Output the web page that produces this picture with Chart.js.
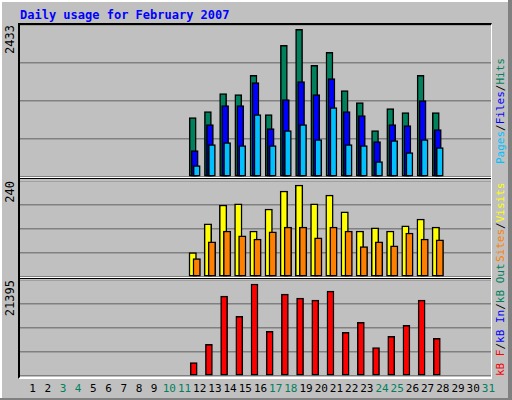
<!DOCTYPE html>
<html><head><meta charset="utf-8">
<script src="https://cdn.jsdelivr.net/npm/chart.js"></script>
<style>
body{margin:0;background:#fff;}
#wrap{position:absolute;left:0;top:0;width:510px;height:398px;background:#c0c0c0;border-left:2px solid #fff;border-top:2px solid #fff;box-sizing:border-box;}
#wrap:after{content:"";position:absolute;left:-2px;top:396px;width:512px;height:4px;background:#808080;}
#wrapR{position:absolute;left:508px;top:0;width:4px;height:400px;background:#808080;}
.t{position:absolute;font-family:"DejaVu Sans Mono",monospace;font-size:11px;white-space:nowrap;}
.rot{transform-origin:0 0;transform:rotate(-90deg);}
#frame{position:absolute;left:18px;top:23px;width:474px;height:356px;border-left:2px solid #000;border-top:2px solid #000;border-right:1px solid #fff;border-bottom:2px solid #fff;box-sizing:border-box;}
canvas{position:absolute;}
.sep{position:absolute;left:20px;width:471px;height:1px;}
</style></head><body>
<div id="wrap"></div><div id="wrapR"></div>
<div class="t" style="left:20px;top:8px;color:#0000ff;font-weight:bold;font-size:12px;">Daily usage for February 2007</div>
<div id="frame"></div>
<div id="labels"></div>
<div style="position:absolute;left:20px;top:25px;width:471px;height:352px;">
<canvas id="c1" style="left:0;top:0"></canvas>
<canvas id="c2" style="left:0;top:156px"></canvas>
<canvas id="c3" style="left:0;top:255px"></canvas>
</div>
<div class="sep" style="top:177px;background:#fff"></div><div class="sep" style="top:178px;background:#000"></div>
<div class="sep" style="top:277px;background:#fff"></div><div class="sep" style="top:278px;background:#000"></div>
<script>
const days=Array.from({length:31},(_,i)=>String(i+1));
const weekend=[3,4,10,11,17,18,24,25,31];
const N=null;
const hits=[N,N,N,N,N,N,N,N,N,N,N,952,1048,1337,1321,1626,1000,2107,2363,1786,1994,1385,1192,743,1096,1032,1626,1032,N,N,N];
const files=[N,N,N,N,N,N,N,N,N,N,N,422,840,1144,1144,1513,775,1241,1529,1321,1577,1048,984,567,840,824,1225,759,N,N,N];
const pages=[N,N,N,N,N,N,N,N,N,N,N,182,519,551,503,1000,503,743,840,599,1112,519,503,246,583,390,599,471,N,N,N];
const visits=[N,N,N,N,N,N,N,N,N,N,N,61,133,180,183,115,170,215,230,183,205,163,115,123,115,128,145,125,N,N,N];
const sites=[N,N,N,N,N,N,N,N,N,N,N,46,88,115,103,95,113,125,125,98,125,115,76,88,78,110,95,93,N,N,N];
const kbytes=[N,N,N,N,N,N,N,N,N,N,N,2992,7032,17805,13316,20497,9950,18254,17356,16907,18927,9725,11969,6359,8827,11296,16907,8378,N,N,N];
const maxHits=2433,maxVisits=240,maxKB=21395;

const shift={id:'shift',
 beforeDatasetDraw(c,a){const o=c.data.datasets[a.index].dx||0;c.ctx.save();c.ctx.translate(o,0);},
 afterDatasetDraw(c){c.ctx.restore();}};
const bg={id:'bg',beforeDraw(c){const x=c.ctx;x.save();x.fillStyle='#c0c0c0';x.fillRect(0,0,c.width,c.height);x.restore();}};
function mk(id,h,ds,max,w){
 const cv=document.getElementById(id);cv.width=471;cv.height=h;cv.style.width='471px';cv.style.height=h+'px';
 new Chart(cv,{type:'bar',data:{labels:days,datasets:ds.map((d,i)=>({data:d.v,backgroundColor:d.c,borderColor:'#000',borderWidth:1.5,borderSkipped:false,grouped:false,barThickness:w,dx:d.dx,order:ds.length-i}))},
 options:{responsive:false,animation:false,events:[],layout:{padding:0},
  plugins:{legend:{display:false},tooltip:{enabled:false}},
  scales:{x:{display:false},y:{min:0,max:max,ticks:{display:false,stepSize:max/4},grid:{color:'#808080',lineWidth:1.5,drawTicks:false},border:{display:false}}}},
 plugins:[bg,shift]});
}
mk('c1',152,[{v:hits,c:'#00805c',dx:-2},{v:files,c:'#0000ff',dx:0},{v:pages,c:'#00c0ff',dx:2}],maxHits,7);
mk('c2',96,[{v:visits,c:'#ffff00',dx:-2},{v:sites,c:'#ff8000',dx:2}],maxVisits,7.5);
mk('c3',96,[{v:kbytes,c:'#ff0000',dx:-1}],maxKB,7);

let html='';
days.forEach((d,i)=>{const cx=20+(i+0.5)*471/31+5;const col=weekend.includes(i+1)?'#00805c':'#000';
 html+=`<div class="t" style="left:${cx}px;top:382px;color:${col};transform:translateX(-50%);font-size:11px">${d}</div>`;});
html+=`<div class="t rot" style="left:3px;top:${25}px;font-size:12px;transform:rotate(-90deg) translateX(-100%);">${maxHits}</div>`;
html+=`<div class="t rot" style="left:3px;top:${181}px;font-size:12px;transform:rotate(-90deg) translateX(-100%);">${maxVisits}</div>`;
html+=`<div class="t rot" style="left:3px;top:${280}px;font-size:12px;transform:rotate(-90deg) translateX(-100%);">${maxKB}</div>`;
function rotR(parts,yBottom){return `<div class="t" style="left:494px;top:${yBottom}px;font-size:11px;transform-origin:0 0;transform:rotate(-90deg);">${parts}</div>`;}
html+=rotR('<span style="color:#00c0ff">Pages</span>/<span style="color:#0000ff">Files</span>/<span style="color:#00805c">Hits</span>',164);
html+=rotR('<span style="color:#ff8000">Sites</span>/<span style="color:#ffff00">Visits</span>',262);
html+=rotR('<span style="color:#ff0000">kB F</span>/<span style="color:#0000ff">kB In</span>/<span style="color:#00805c">kB Out</span>',376);
document.getElementById('labels').innerHTML=html;
</script></body></html>
